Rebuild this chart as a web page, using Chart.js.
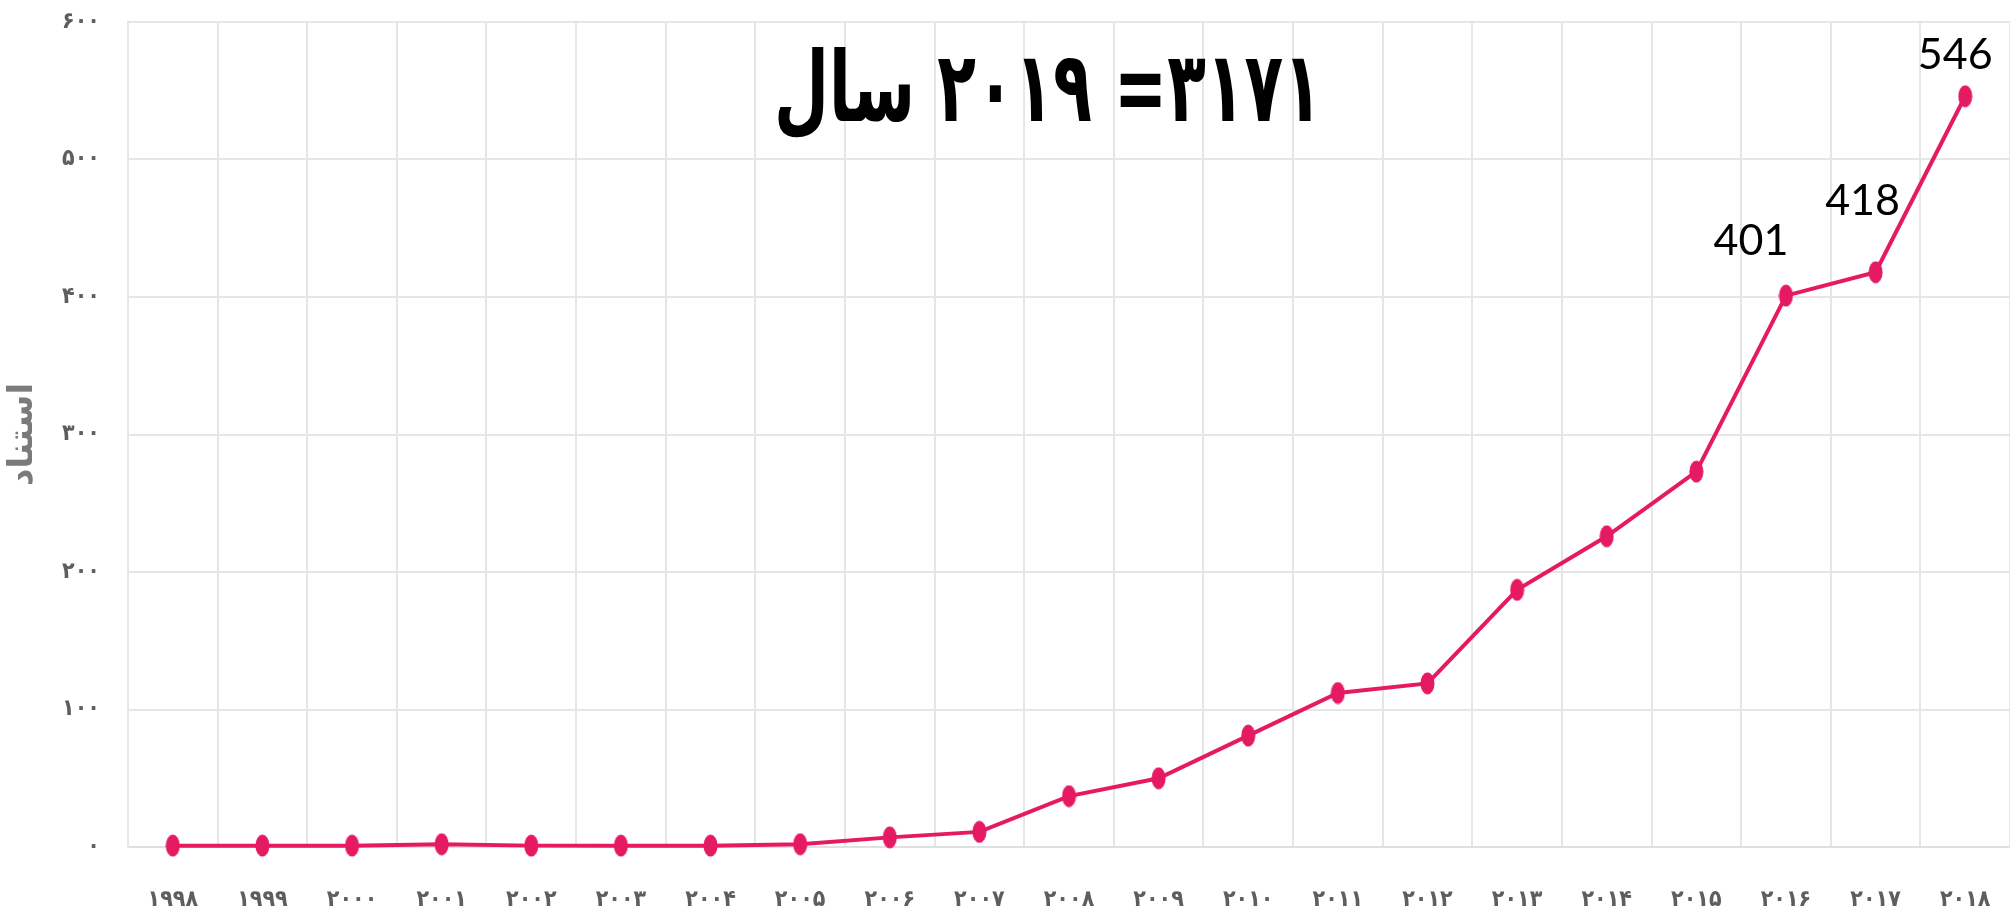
<!DOCTYPE html>
<html>
<head>
<meta charset="utf-8">
<script src="https://cdn.jsdelivr.net/npm/chart.js@4.4.1/dist/chart.umd.min.js"></script>
<style>
  html, body { margin: 0; padding: 0; background: #fff; }
  #wrap { width: 2010px; height: 917px; }
</style>
</head>
<body>
<div id="wrap"><canvas id="chart" width="2010" height="917"></canvas></div>
<script>
// data
const years = ['۱۹۹۸','۱۹۹۹','۲۰۰۰','۲۰۰۱','۲۰۰۲','۲۰۰۳','۲۰۰۴','۲۰۰۵','۲۰۰۶','۲۰۰۷',
  '۲۰۰۸','۲۰۰۹','۲۰۱۰','۲۰۱۱','۲۰۱۲','۲۰۱۳','۲۰۱۴','۲۰۱۵','۲۰۱۶','۲۰۱۷','۲۰۱۸'];
const citations = [1, 1, 1, 2, 1, 1, 1, 2, 7, 11, 37, 50, 81, 112, 119, 187, 226, 273, 401, 418, 546];
const yTickLabels = ['۰','۱۰۰','۲۰۰','۳۰۰','۴۰۰','۵۰۰','۶۰۰'];
const labeledPoints = [18, 19, 20];
const headline = '۳۱۷۱= ۲۰۱۹ سال';
const yTitle = 'استناد';

const pink = '#e61a62';

// tall oval marker like the one in the picture
function ovalMarker() {
  const c = document.createElement('canvas');
  c.width = 15; c.height = 23;
  const g = c.getContext('2d');
  g.fillStyle = pink;
  g.beginPath();
  g.ellipse(7.5, 11.5, 7, 11, 0, 0, Math.PI * 2);
  g.fill();
  return c;
}

// headline and value labels drawn on top
const overlay = {
  id: 'overlay',
  afterDraw(chart) {
    const ctx = chart.ctx;
    const meta = chart.getDatasetMeta(0);
    ctx.save();

    ctx.fillStyle = '#000';
    ctx.font = 'bold 98px "DejaVu Sans"';
    ctx.direction = 'rtl';
    ctx.textAlign = 'center';
    ctx.textBaseline = 'alphabetic';
    const w = ctx.measureText(headline).width;
    ctx.translate(1048, 121);
    ctx.scale(548 / w, 1);
    ctx.fillText(headline, 0, 0);
    ctx.restore();

    ctx.save();
    ctx.fillStyle = '#000';
    ctx.font = '43px Lato';
    ctx.direction = 'ltr';
    ctx.textAlign = 'center';
    ctx.textBaseline = 'alphabetic';
    const shift = { 18: [-35, -41], 19: [-13, -57], 20: [-10, -27] };
    labeledPoints.forEach(i => {
      const p = meta.data[i];
      const s = shift[i];
      ctx.fillText(String(citations[i]), p.x + s[0], p.y + s[1]);
    });
    ctx.restore();
  }
};

new Chart(document.getElementById('chart'), {
  type: 'line',
  data: {
    labels: years,
    datasets: [{
      data: citations,
      borderColor: pink,
      backgroundColor: pink,
      borderWidth: 4,
      pointStyle: ovalMarker(),
      pointRadius: 8,
      tension: 0,
      clip: false
    }]
  },
  options: {
    responsive: false,
    animation: false,
    devicePixelRatio: 1,
    layout: { autoPadding: false, padding: { top: 22, right: 0, bottom: 0, left: 0 } },
    plugins: {
      legend: { display: false },
      tooltip: { enabled: false }
    },
    scales: {
      x: {
        offset: true,
        // invisible tick marks keep the labels away from the axis
        grid: { offset: true, color: '#e6e6e6', lineWidth: 2, drawTicks: true, tickLength: 39, tickColor: 'rgba(0,0,0,0)' },
        border: { color: '#e0e0e0', width: 2 },
        ticks: {
          color: '#5e5e5e',
          font: { family: '"DejaVu Sans Condensed"', size: 23, weight: 'bold' },
          padding: 0,
          maxRotation: 0,
          autoSkip: false
        },
        afterFit: (scale) => { scale.height = 70; }
      },
      y: {
        min: 0,
        max: 600,
        grid: { color: '#e6e6e6', lineWidth: 2, drawTicks: true, tickLength: 28, tickColor: 'rgba(0,0,0,0)' },
        border: { color: '#e6e6e6', width: 2 },
        ticks: {
          stepSize: 100,
          color: '#5e5e5e',
          font: { family: '"DejaVu Sans Condensed"', size: 23, weight: 'bold' },
          padding: 0,
          callback: (v, i) => yTickLabels[i]
        },
        title: {
          display: true,
          text: yTitle,
          color: '#7a7a7a',
          font: { family: '"DejaVu Sans"', size: 34, weight: 'bold' },
          padding: { top: 3, bottom: 4 }
        },
        afterFit: (scale) => { scale.width = 128; }
      }
    }
  },
  plugins: [overlay]
});
</script>
</body>
</html>
